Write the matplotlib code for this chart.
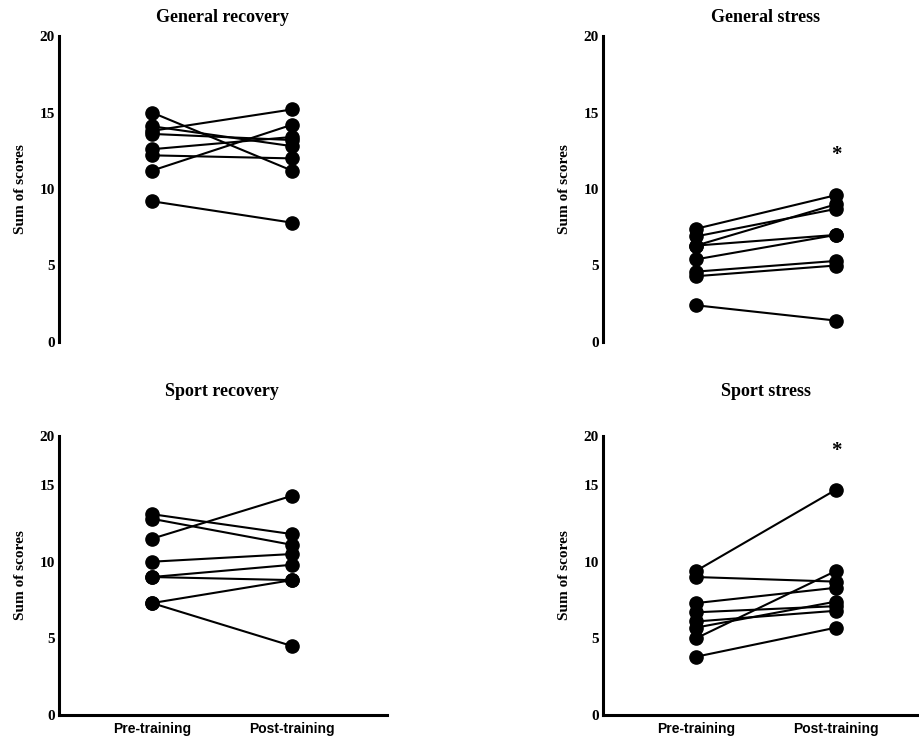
import matplotlib
matplotlib.use("Agg")
import matplotlib.pyplot as plt
import matplotlib.transforms as mtransforms

# Sum of scores per subject, pre vs post training
general_recovery_pre = [15.0, 14.1, 13.8, 13.6, 12.6, 12.2, 11.2, 9.2]
general_recovery_post = [11.2, 12.8, 15.2, 13.2, 13.4, 12.0, 14.2, 7.8]

general_stress_pre = [7.4, 6.9, 6.3, 6.3, 5.4, 4.6, 4.3, 2.4]
general_stress_post = [9.6, 8.7, 9.0, 7.0, 7.0, 5.3, 5.0, 1.4]

sport_recovery_pre = [13.1, 12.8, 11.5, 10.0, 9.0, 9.0, 7.3, 7.3]
sport_recovery_post = [11.8, 11.1, 14.3, 10.5, 9.8, 8.8, 8.8, 4.5]

sport_stress_pre = [9.4, 9.0, 7.3, 6.7, 6.1, 5.7, 5.0, 3.8]
sport_stress_post = [14.7, 8.7, 8.3, 7.1, 6.8, 7.4, 9.4, 5.7]

# significance markers (y position of the asterisk, None = no marker)
star_general_stress = 12.2
star_sport_stress = 17.2

conditions = ["Pre-training", "Post-training"]
titles = ["General recovery", "General stress", "Sport recovery", "Sport stress"]
ytick_values = [0, 5, 10, 15, 20]

SERIF = "Liberation Serif"
SANS = "Liberation Sans"

W, H = 919, 737
fig = plt.figure(figsize=(W / 100, H / 100), dpi=100)


def make_axes(left_px, right_px, top_px, bottom_px):
    return fig.add_axes([left_px / W, 1 - bottom_px / H,
                         (right_px - left_px) / W, (bottom_px - top_px) / H])


panels = [
    (make_axes(59, 387, 36, 342), general_recovery_pre, general_recovery_post, None, False),
    (make_axes(603, 919, 36, 342), general_stress_pre, general_stress_post, star_general_stress, False),
    (make_axes(59, 387, 436, 715), sport_recovery_pre, sport_recovery_post, None, True),
    (make_axes(603, 919, 436, 715), sport_stress_pre, sport_stress_post, star_sport_stress, True),
]

for (ax, pre, post, star, bottom_row), title in zip(panels, titles):
    for a, b in zip(pre, post):
        ax.plot([0, 1], [a, b], color="black", linewidth=1.5,
                marker="o", markersize=9.5, markerfacecolor="black",
                markeredgecolor="black", clip_on=False, zorder=3)

    if star is not None:
        ax.text(1, star, "*", ha="center", va="center",
                fontsize=15, fontweight="bold", family=SERIF)

    # pixel-based x range so pre/post sit at the same spots as the original
    width_px = ax.get_position().width * W
    ax.set_xlim(-93 / 140, (width_px - 93) / 140)

    if bottom_row:
        # original figure squeezes the top of these axes: 20 sits at ~18.2
        ytop = 18.2
        ax.set_ylim(0, ytop)
        ax.set_yticks([0, 5, 10, 15, ytop])
        ax.set_xticks([0, 1])
        ax.set_xticklabels(conditions, fontsize=10, fontweight="bold", family=SANS)
        ax.spines["bottom"].set_linewidth(2.2)
    else:
        ax.set_ylim(0, 20)
        ax.set_yticks(ytick_values)
        ax.set_xticks([])
        ax.spines["bottom"].set_visible(False)
    ax.set_yticklabels([str(v) for v in ytick_values], fontsize=11,
                       fontweight="bold", family=SERIF)

    ax.tick_params(axis="both", length=0, pad=3)
    ax.tick_params(axis="x", pad=5)
    ax.spines["left"].set_linewidth(2.2)
    ax.spines["top"].set_visible(False)
    ax.spines["right"].set_visible(False)

    ax.set_ylabel("Sum of scores", fontsize=11, fontweight="bold",
                  family=SERIF, labelpad=9)

    trans = mtransforms.blended_transform_factory(ax.transData, ax.transAxes)
    title_y = 1.06 if not bottom_row else 1.16
    ax.text(0.5, title_y, title, transform=trans, ha="center", va="center",
            fontsize=13, fontweight="bold", family=SERIF)

fig.savefig("out.png", dpi=100)
